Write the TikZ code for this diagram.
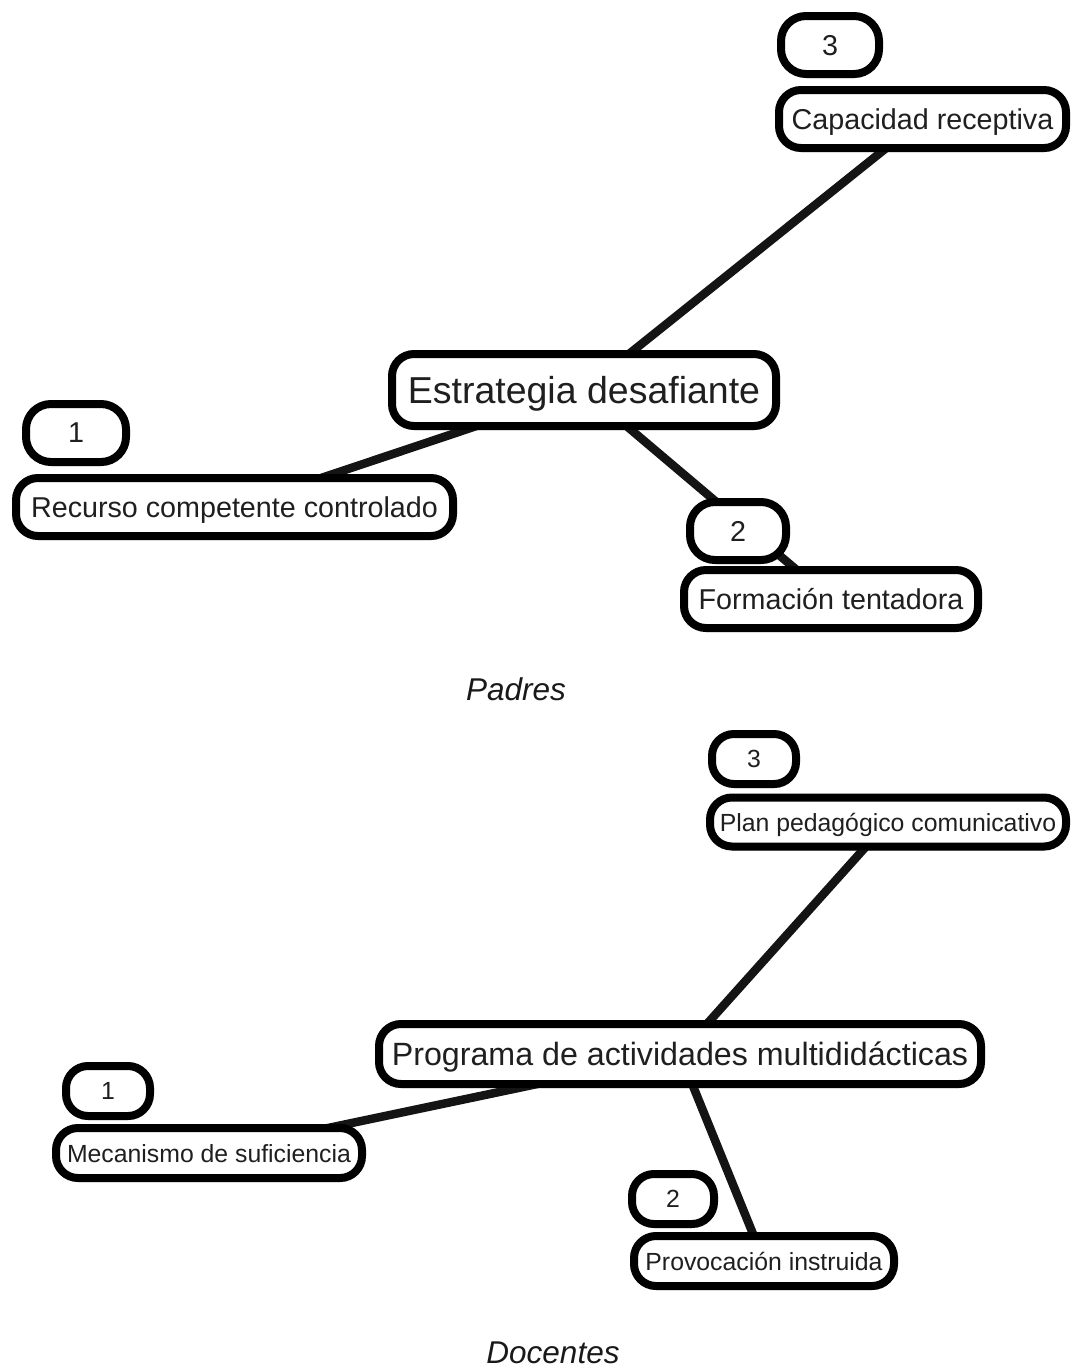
\documentclass[tikz,border=0pt]{standalone}
\usepackage{fontspec}
\setmainfont{Liberation Sans}
\usetikzlibrary{shadows}
\pgfdeclarelayer{bg}
\pgfsetlayers{bg,main}

\tikzset{
  box/.style={draw=black, line width=8pt, fill=white, rounded corners=22pt,
    inner sep=0pt, align=center, text=black!88, text depth=0pt,
    drop shadow={opacity=0.35, shadow xshift=1.5pt, shadow yshift=-4pt}},
  numbox/.style={box, rounded corners=25pt},
  link/.style={draw=black!92, line width=8.5pt},
  caption/.style={font=\fontsize{31.5}{36}\selectfont\itshape, text=black!90},
  fA/.style={font=\fontsize{28.7}{33}\selectfont},
  fB/.style={font=\fontsize{37.5}{42}\selectfont},
  fC/.style={font=\fontsize{24.8}{29}\selectfont},
  fD/.style={font=\fontsize{32.2}{37}\selectfont},
}

\begin{document}
\begin{tikzpicture}[x=1pt, y=-1pt]
\useasboundingbox (0,0) rectangle (1072,1369);

% ---- Padres ----
\node[box, fB, minimum width=384pt, minimum height=72pt] (est) at (584,390) {Estrategia desafiante};
\node[box, fA, minimum width=287pt, minimum height=58pt] (cap) at (922.5,119) {Capacidad receptiva};
\node[numbox, fA, minimum width=98pt, minimum height=58pt] (n3a) at (830,45) {3};
\node[box, fA, minimum width=437pt, minimum height=58pt] (rec) at (234.5,507) {Recurso competente controlado};
\node[numbox, fA, minimum width=100pt, minimum height=58pt] (n1a) at (76,433) {1};
\node[box, fA, minimum width=294pt, minimum height=58pt] (for) at (831,599) {Formación tentadora};
\node[numbox, fA, minimum width=96pt, minimum height=58pt] (n2a) at (738,531) {2};
\node[caption] (padres) at (516,689) {Padres};

% ---- Docentes ----
\node[box, fD, minimum width=602pt, minimum height=60pt] (prog) at (680,1054) {Programa de actividades multididácticas};
\node[box, fC, minimum width=356pt, minimum height=49pt] (plan) at (888,822) {Plan pedagógico comunicativo};
\node[numbox, fC, minimum width=84pt, minimum height=50pt, rounded corners=22pt] (n3b) at (754,759) {3};
\node[box, fC, minimum width=306pt, minimum height=50pt] (mec) at (209,1153) {Mecanismo de suficiencia};
\node[numbox, fC, minimum width=84pt, minimum height=50pt, rounded corners=22pt] (n1b) at (108,1091) {1};
\node[box, fC, minimum width=260pt, minimum height=50pt] (prov) at (764,1261) {Provocación instruida};
\node[numbox, fC, minimum width=82pt, minimum height=50pt, rounded corners=22pt] (n2b) at (673,1199) {2};
\node[caption] (docentes) at (553,1353) {Docentes};

% ---- connectors, behind the boxes ----
\begin{pgfonlayer}{bg}
  \draw[link] (cap.center) -- (est.center);
  \draw[link] (est.center) -- (rec.center);
  \draw[link] (est.center) -- (for.center);
  \draw[link] (plan.center) -- (prog.center);
  \draw[link] (prog.center) -- (mec.center);
  \draw[link] (prog.center) -- (prov.center);
\end{pgfonlayer}
\end{tikzpicture}
\end{document}
